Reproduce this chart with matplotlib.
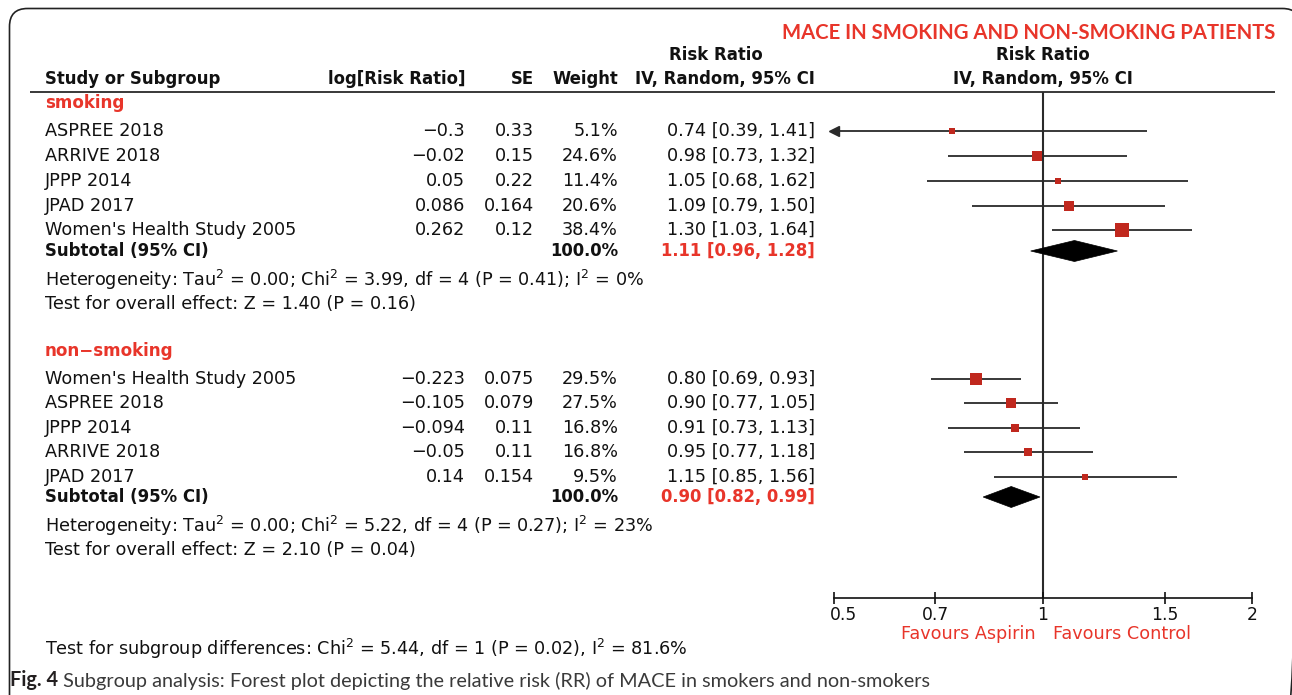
import matplotlib
matplotlib.use("Agg")
import matplotlib.pyplot as plt
from matplotlib.patches import FancyBboxPatch, Polygon
from matplotlib.ticker import FixedLocator, FixedFormatter, NullLocator
import matplotlib.transforms as mtransforms

# ---------------- data ----------------
title = "MACE IN SMOKING AND NON-SMOKING PATIENTS"
group_names = ["smoking", "non\u2212smoking"]

smoking_studies = ["ASPREE 2018", "ARRIVE 2018", "JPPP 2014", "JPAD 2017", "Women's Health Study 2005"]
smoking_logrr = [-0.3, -0.02, 0.05, 0.086, 0.262]
smoking_se = [0.33, 0.15, 0.22, 0.164, 0.12]
smoking_weight = [5.1, 24.6, 11.4, 20.6, 38.4]
smoking_rr = [0.74, 0.98, 1.05, 1.09, 1.30]
smoking_lo = [0.39, 0.73, 0.68, 0.79, 1.03]
smoking_hi = [1.41, 1.32, 1.62, 1.50, 1.64]
smoking_total = [1.11, 0.96, 1.28]
smoking_het = r"Heterogeneity: Tau$^2$ = 0.00; Chi$^2$ = 3.99, df = 4 (P = 0.41); I$^2$ = 0%"
smoking_test = "Test for overall effect: Z = 1.40 (P = 0.16)"

nonsmoking_studies = ["Women's Health Study 2005", "ASPREE 2018", "JPPP 2014", "ARRIVE 2018", "JPAD 2017"]
nonsmoking_logrr = [-0.223, -0.105, -0.094, -0.05, 0.14]
nonsmoking_se = [0.075, 0.079, 0.11, 0.11, 0.154]
nonsmoking_weight = [29.5, 27.5, 16.8, 16.8, 9.5]
nonsmoking_rr = [0.80, 0.90, 0.91, 0.95, 1.15]
nonsmoking_lo = [0.69, 0.77, 0.73, 0.77, 0.85]
nonsmoking_hi = [0.93, 1.05, 1.13, 1.18, 1.56]
nonsmoking_total = [0.90, 0.82, 0.99]
nonsmoking_het = r"Heterogeneity: Tau$^2$ = 0.00; Chi$^2$ = 5.22, df = 4 (P = 0.27); I$^2$ = 23%"
nonsmoking_test = "Test for overall effect: Z = 2.10 (P = 0.04)"

subgroup_test = r"Test for subgroup differences: Chi$^2$ = 5.44, df = 1 (P = 0.02), I$^2$ = 81.6%"
x_ticks = [0.5, 0.7, 1, 1.5, 2]
x_ticklabels = ["0.5", "0.7", "1", "1.5", "2"]
favours_left = "Favours Aspirin"
favours_right = "Favours Control"
caption_bold = "Fig. 4"
caption_text = " Subgroup analysis: Forest plot depicting the relative risk (RR) of MACE in smokers and non-smokers"

# ---------------- layout (pixels) ----------------
W, H = 1292, 695
RED = "#E8352A"
MARK = "#C0281E"
INK = "#111111"
LINE = "#2a2a2a"
FONT = "DejaVu Sans"
FS = 12.7      # regular text
FSB = 11.9     # bold text

plt.rcParams["mathtext.fontset"] = "dejavusans"

col_name, col_log, col_se, col_wt, col_ci = 45, 465, 534, 618, 815
plot_left, plot_right, plot_top, plot_bottom = 834, 1252, 92, 598

groups = [
    dict(name=group_names[0], y_head=103, y_rows=[131, 156, 181, 206, 230], y_sub=251, y_het=280, y_test=304,
         studies=smoking_studies, logrr=smoking_logrr, se=smoking_se, wt=smoking_weight,
         rr=smoking_rr, lo=smoking_lo, hi=smoking_hi, total=smoking_total,
         het=smoking_het, test=smoking_test),
    dict(name=group_names[1], y_head=351, y_rows=[379, 403, 428, 452, 477], y_sub=497, y_het=526, y_test=550,
         studies=nonsmoking_studies, logrr=nonsmoking_logrr, se=nonsmoking_se, wt=nonsmoking_weight,
         rr=nonsmoking_rr, lo=nonsmoking_lo, hi=nonsmoking_hi, total=nonsmoking_total,
         het=nonsmoking_het, test=nonsmoking_test),
]


def fmt_num(v):
    return f"{v:g}".replace("-", "\u2212")


fig = plt.figure(figsize=(W / 100, H / 100), dpi=100)
bg = fig.add_axes([0, 0, 1, 1])
bg.set_xlim(0, W)
bg.set_ylim(H, 0)
bg.axis("off")

# rounded frame (right and bottom edges fall outside the picture)
bg.add_patch(FancyBboxPatch((9.5, 8.5), 1291, 740, boxstyle="round,pad=0,rounding_size=18",
                            fill=False, lw=1.2, ec="#222222"))

# title
bg.text(1275, 33, title, ha="right", va="center", color=RED, fontsize=14.6,
        fontweight="bold", family="Lato")

# headers
hkw = dict(va="center", fontsize=FSB, fontweight="bold", color=INK, family=FONT)
bg.text(col_name, 79, "Study or Subgroup", ha="left", **hkw)
bg.text(col_log, 79, "log[Risk Ratio]", ha="right", **hkw)
bg.text(col_se, 79, "SE", ha="right", **hkw)
bg.text(col_wt, 79, "Weight", ha="right", **hkw)
bg.text(col_ci, 79, "IV, Random, 95% CI", ha="right", **hkw)
bg.text(716, 55, "Risk Ratio", ha="center", **hkw)
bg.text(1043, 55, "Risk Ratio", ha="center", **hkw)
bg.text(1043, 79, "IV, Random, 95% CI", ha="center", **hkw)
bg.plot([30, 1275], [92, 92], color=LINE, lw=1.3, solid_capstyle="butt")

# forest axes
fa = fig.add_axes([plot_left / W, 1 - plot_bottom / H,
                   (plot_right - plot_left) / W, (plot_bottom - plot_top) / H])
fa.set_xscale("log")
fa.set_xlim(x_ticks[0], x_ticks[-1])
fa.set_ylim(plot_bottom, plot_top)
fa.patch.set_alpha(0)
for s in ["top", "right", "left"]:
    fa.spines[s].set_visible(False)
fa.spines["bottom"].set_color(INK)
fa.spines["bottom"].set_linewidth(1.2)
fa.spines["bottom"].set_clip_on(False)
fa.yaxis.set_major_locator(NullLocator())
fa.xaxis.set_major_locator(FixedLocator(x_ticks))
fa.xaxis.set_major_formatter(FixedFormatter(x_ticklabels))
fa.xaxis.set_minor_locator(NullLocator())
fa.tick_params(axis="x", direction="inout", length=9, width=1.2, color=INK,
               labelsize=12.3, labelcolor=INK, pad=1)
ticklabs = fa.get_xticklabels()
for lab in ticklabs:
    lab.set_family(FONT)
# first label sits just right of its tick, as in the reference
ticklabs[0].set_ha("left")
ticklabs[0].set_transform(ticklabs[0].get_transform() +
                          mtransforms.ScaledTranslation(-4 / 100, 0, fig.dpi_scale_trans))
fa.axvline(1, color=LINE, lw=1.5, zorder=1)

rkw = dict(va="center", fontsize=FS, color=INK, family=FONT)
xmin, xmax = x_ticks[0], x_ticks[-1]
for g in groups:
    bg.text(col_name, g["y_head"], g["name"], ha="left", va="center", fontsize=FSB + 0.2,
            fontweight="bold", color=RED, family=FONT)
    for i, y in enumerate(g["y_rows"]):
        bg.text(col_name, y, g["studies"][i], ha="left", **rkw)
        bg.text(col_log, y, fmt_num(g["logrr"][i]), ha="right", **rkw)
        bg.text(col_se, y, fmt_num(g["se"][i]), ha="right", **rkw)
        bg.text(col_wt, y, f"{g['wt'][i]:.1f}%", ha="right", **rkw)
        bg.text(col_ci, y, f"{g['rr'][i]:.2f} [{g['lo'][i]:.2f}, {g['hi'][i]:.2f}]", ha="right", **rkw)
        lo, hi = g["lo"][i], g["hi"][i]
        fa.plot([max(lo, xmin), min(hi, xmax)], [y, y], color=LINE, lw=1.3, zorder=2,
                solid_capstyle="butt", clip_on=False)
        if lo < xmin:
            fa.plot([xmin], [y], marker="<", ms=6.5, color=LINE, clip_on=False, zorder=3)
        ms = (4.2 + 0.24 * g["wt"][i]) * 0.72
        fa.plot([g["rr"][i]], [y], marker="s", ms=ms, color=MARK, mec=MARK, mew=0, zorder=4)
    ys = g["y_sub"]
    bg.text(col_name, ys, "Subtotal (95% CI)", ha="left", va="center", fontsize=FSB,
            fontweight="bold", color=INK, family=FONT)
    bg.text(col_wt, ys, "100.0%", ha="right", va="center", fontsize=FSB,
            fontweight="bold", color=INK, family=FONT)
    t, l, h = g["total"]
    bg.text(col_ci, ys, f"{t:.2f} [{l:.2f}, {h:.2f}]", ha="right", va="center", fontsize=FSB,
            fontweight="bold", color=RED, family=FONT)
    fa.add_patch(Polygon([(l, ys), (t, ys - 10.5), (h, ys), (t, ys + 10.5)], closed=True,
                         fc="black", ec="black", lw=0.5, zorder=4))
    bg.text(col_name, g["y_het"], g["het"], ha="left", **rkw)
    bg.text(col_name, g["y_test"], g["test"], ha="left", **rkw)

# favours labels
bg.text(1036, 634, favours_left, ha="right", va="center", fontsize=FS, color=RED, family=FONT)
bg.text(1053, 634, favours_right, ha="left", va="center", fontsize=FS, color=RED, family=FONT)

bg.text(col_name, 649, subgroup_test, ha="left", **rkw)

# caption
cap = bg.text(10, 680, caption_bold, ha="left", va="center", fontsize=14.35, fontweight="bold",
              color="#231F20", family="Lato")
bg.annotate(caption_text, xy=(1, 0), xycoords=cap, ha="left", va="bottom", fontsize=14.35,
            color="#3a3a3a", family="Lato")

fig.savefig("out.png", dpi=100)
